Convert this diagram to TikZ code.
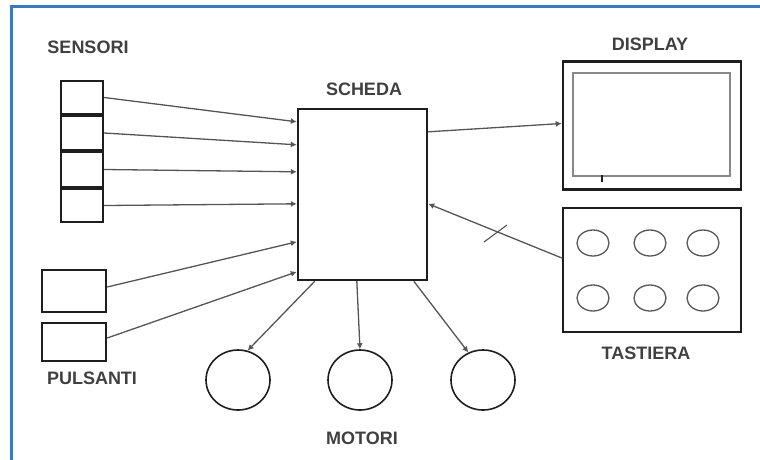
\documentclass[tikz,border=0pt]{standalone}
\usepackage{fontspec}
\setmainfont{Liberation Sans}
\usetikzlibrary{arrows.meta,shapes.geometric}
\definecolor{frameblue}{RGB}{58,122,190}
\definecolor{wire}{RGB}{85,85,85}
\definecolor{ink}{RGB}{30,30,30}
\tikzset{
  unit/.style={draw=ink,line width=2.4pt,rectangle,inner sep=0pt},
  screen/.style={draw=wire!70,line width=1.4pt,rectangle,inner sep=0pt},
  motor/.style={draw=ink,line width=1.6pt,ellipse,inner sep=0pt,minimum width=64pt,minimum height=60pt},
  key/.style={draw=wire,line width=1.3pt,ellipse,inner sep=0pt,minimum width=32pt,minimum height=26pt},
  caption/.style={font=\fontsize{18}{21}\selectfont\bfseries,text=ink!85,inner sep=0pt},
  link/.style={draw=wire,line width=1.3pt,-{Latex[length=6pt,width=6pt]}},
}
\begin{document}
\begin{tikzpicture}[x=1pt,y=-1pt]
\useasboundingbox (0,0) rectangle (760,459);
% outer frame (only top and left edges fall inside the page)
\draw[frameblue,line width=3pt] (11.5,470) -- (11.5,6) -- (770,6);

% sensors
\node[unit,minimum width=42pt,minimum height=33pt] (s1) at (82,97.5) {};
\node[unit,minimum width=42pt,minimum height=34pt] (s2) at (82,133) {};
\node[unit,minimum width=42pt,minimum height=35pt] (s3) at (82,169.5) {};
\node[unit,minimum width=42pt,minimum height=33pt] (s4) at (82,205.5) {};
\node[caption] (lsens) at (88,47) {SENSORI};

% push buttons
\node[unit,minimum width=64pt,minimum height=42pt] (p1) at (74,291) {};
\node[unit,minimum width=64pt,minimum height=38pt] (p2) at (74,342) {};
\node[caption] (lpuls) at (92,378) {PULSANTI};

% control board
\node[unit,minimum width=129pt,minimum height=171pt] (scheda) at (362.5,194.5) {};
\node[caption] (lsch) at (364,89) {SCHEDA};

% display
\node[unit,minimum width=178pt,minimum height=128pt] (disp) at (652,125.5) {};
\node[screen,minimum width=157pt,minimum height=103pt] (dispin) at (651.5,124.5) {};
\coordinate (tickA) at (602,175);
\coordinate (tickB) at (602,182);
\draw[ink,line width=1.4pt] (tickA) -- (tickB);
\node[caption] (ldisp) at (650,44) {DISPLAY};

% keypad
\node[unit,minimum width=178pt,minimum height=124pt] (tast) at (652,270) {};
\node[key] (k1) at (593,243) {};
\node[key] (k2) at (650,243) {};
\node[key] (k3) at (703,243) {};
\node[key] (k4) at (593,298) {};
\node[key] (k5) at (650,298) {};
\node[key] (k6) at (703,298) {};
\node[caption] (ltast) at (646,353) {TASTIERA};

% motors
\node[motor] (m1) at (238,380) {};
\node[motor] (m2) at (360,380) {};
\node[motor] (m3) at (483,380) {};
\node[caption] (lmot) at (362,438) {MOTORI};

% inputs to the board
\draw[link] (s1.east) -- ([yshift=-14pt]scheda.north west);
\draw[link] (s2.east) -- ([yshift=-37pt]scheda.north west);
\draw[link] (s3.east) -- ([yshift=-64pt]scheda.north west);
\draw[link] (s4.east) -- ([yshift=-96pt]scheda.north west);
\draw[link] ([yshift=4pt]p1.east) -- ([yshift=-134pt]scheda.north west);
\draw[link] ([yshift=4pt]p2.east) -- ([yshift=-164pt]scheda.north west);

% board to display
\draw[link] ([yshift=-24pt]scheda.north east) -- ([yshift=2pt]disp.west);

% keypad to board, with a bus slash
\draw[link] ([yshift=12pt]tast.west) -- ([yshift=-96pt]scheda.north east);
\coordinate (slA) at (484,242);
\coordinate (slB) at (507,225);
\draw[wire,line width=1.1pt] (slA) -- (slB);

% board to motors
\draw[link] ([xshift=18pt]scheda.south west) -- (m1.72);
\draw[link] ([xshift=60pt]scheda.south west) -- (m2.north);
\draw[link] ([xshift=117pt]scheda.south west) -- (m3.118);
\end{tikzpicture}
\end{document}
